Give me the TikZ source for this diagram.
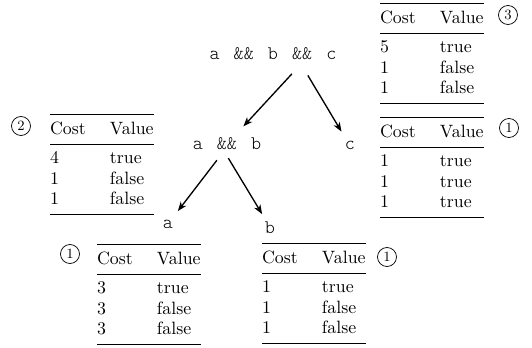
\documentclass[tikz,border=0pt]{standalone}
\usepackage{fontspec}
\usepackage{booktabs}
\usetikzlibrary{arrows.meta}
\newfontfamily\courfont{Latin Modern Mono Light}
\newcommand{\costtab}[6]{\fontsize{10.7}{12.4}\selectfont\begin{tabular}{@{}p{36pt}@{}l@{}}\toprule Cost & Value\\\midrule #1 & #2\\ #3 & #4\\ #5 & #6\\\bottomrule\end{tabular}}
\newcommand{\tgap}{\hspace{8.45pt}}
\begin{document}
\begin{tikzpicture}[x=0.6pt,y=-0.6pt,
  tab/.style={inner sep=0pt,outer sep=0pt,anchor=north west},
  treenode/.style={inner sep=0pt,outer sep=0pt,anchor=base,font=\fontsize{11.5}{13}\courfont},
  num/.style={draw,circle,line width=0.45pt,inner sep=0pt,minimum size=11.4pt,font=\fontsize{8.5}{9}\selectfont},
  edge/.style={line width=0.8pt,-{Stealth[length=5.6pt,width=4.2pt,inset=1.6pt]}}]
\useasboundingbox (0,0) rectangle (532,348);
% tree
\node[treenode] (root) at (273,60) {a\tgap\&\&\tgap b\tgap\&\&\tgap c};
\node[treenode] (ab) at (227,150) {a\tgap\&\&\tgap b};
\node[treenode] (c) at (350,150) {c};
\node[treenode] (la) at (168,228) {a};
\node[treenode] (lb) at (270,233) {b};
\coordinate (rootop) at (301,64);
\coordinate (abop) at (224,151);
\draw[edge,shorten <=8pt,shorten >=9.5pt] (rootop) -- (ab);
\draw[edge,shorten <=8pt,shorten >=7pt] (rootop) -- (c);
\draw[edge,shorten <=7pt,shorten >=6.5pt] (abop) -- (la);
\draw[edge,shorten <=5pt,shorten >=5pt] (abop) -- (lb);
% tables
\node[tab] (t3) at (380,3) {\costtab{5}{true}{1}{false}{1}{false}};
\node[tab] (t1) at (380,117) {\costtab{1}{true}{1}{true}{1}{true}};
\node[tab] (t2) at (50,114) {\costtab{4}{true}{1}{false}{1}{false}};
\node[tab] (ta) at (97,244) {\costtab{3}{true}{3}{false}{3}{false}};
\node[tab] (tb) at (262,243) {\costtab{1}{true}{1}{false}{1}{false}};
% circled numbers
\node[num] (n3) at (508,15) {3};
\node[num] (n1r) at (509,128) {1};
\node[num] (n2) at (21,126) {2};
\node[num] (n1a) at (70,254) {1};
\node[num] (n1b) at (387,257) {1};
\end{tikzpicture}
\end{document}
